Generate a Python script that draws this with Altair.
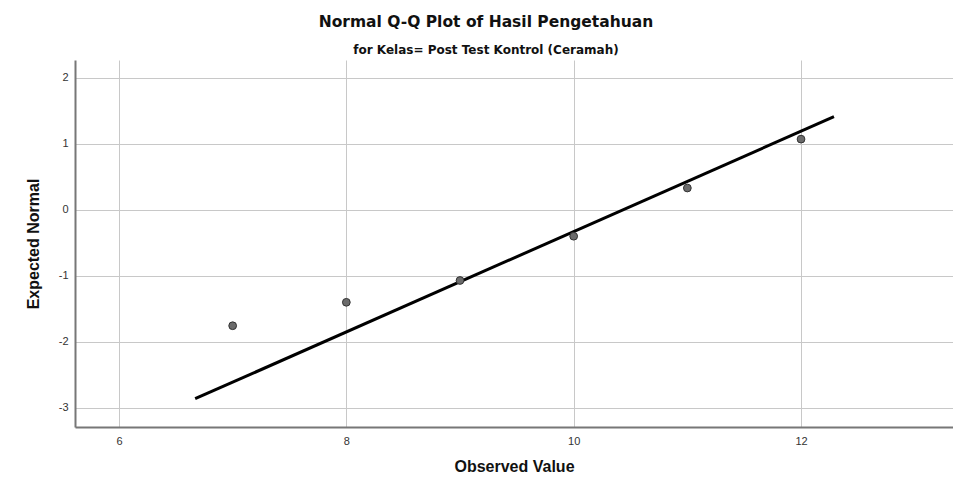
import altair as alt
import pandas as pd

observed = [7, 8, 9, 10, 11, 12]
expected = [-1.755, -1.40, -1.07, -0.40, 0.33, 1.07]

# Reference line endpoints
line_x = [6.67, 12.29]
line_y = [-2.86, 1.41]

x_ticks = [6, 8, 10, 12]
y_ticks = [-3, -2, -1, 0, 1, 2]

pts = pd.DataFrame({"obs": observed, "exp": expected})
ln = pd.DataFrame({"obs": line_x, "exp": line_y})

FONT = "Liberation Sans"
TFONT = "DejaVu Sans"

x_scale = alt.Scale(domain=[5.613, 13.337], nice=False, zero=False)
y_scale = alt.Scale(domain=[-3.288, 2.268], nice=False, zero=False)

x_axis = alt.Axis(values=x_ticks, title="Observed Value", grid=True,
                  labelExpr="'' + datum.value",
                  gridColor="#c8c8c8", gridWidth=1, domainColor="#777777",
                  domainWidth=2, ticks=False, labelPadding=8,
                  labelFont=FONT, labelFontSize=11, labelColor="#333333",
                  titleFont=FONT, titleFontSize=16, titleFontWeight="bold",
                  titleColor="#111111", titlePadding=12)
y_axis = alt.Axis(values=y_ticks, title="Expected Normal", grid=True,
                  labelExpr="'' + datum.value",
                  gridColor="#c8c8c8", gridWidth=1, domainColor="#777777",
                  domainWidth=2, ticks=False, labelPadding=7,
                  labelFont=FONT, labelFontSize=11, labelColor="#333333",
                  titleFont=FONT, titleFontSize=16, titleFontWeight="bold",
                  titleColor="#111111", titlePadding=17)

points = alt.Chart(pts).mark_point(
    filled=True, size=60, fill="#6b6b6b", stroke="#333333", strokeWidth=1, opacity=1
).encode(
    x=alt.X("obs:Q", scale=x_scale, axis=x_axis),
    y=alt.Y("exp:Q", scale=y_scale, axis=y_axis),
)

line = alt.Chart(ln).mark_line(color="black", strokeWidth=3).encode(
    x=alt.X("obs:Q", scale=x_scale),
    y=alt.Y("exp:Q", scale=y_scale),
)

chart = alt.layer(line, points).properties(
    width=878,
    height=367,
    autosize=alt.AutoSizeParams(type="none"),
    padding={"left": 67, "top": 52, "right": 0, "bottom": 50},
    title=alt.TitleParams(
        text="Normal Q-Q Plot of Hasil Pengetahuan",
        subtitle="for Kelas= Post Test Kontrol (Ceramah)",
        anchor="middle", frame="group", dx=-28,
        font=TFONT, fontSize=15.5, fontWeight="bold", color="#111111",
        subtitleFont=TFONT, subtitleFontSize=12, subtitleFontWeight="bold",
        subtitleColor="#111111", subtitlePadding=15, offset=4,
    ),
).configure_view(stroke=None)

chart.save("out.html", embed_options={"renderer": "svg", "actions": False})
